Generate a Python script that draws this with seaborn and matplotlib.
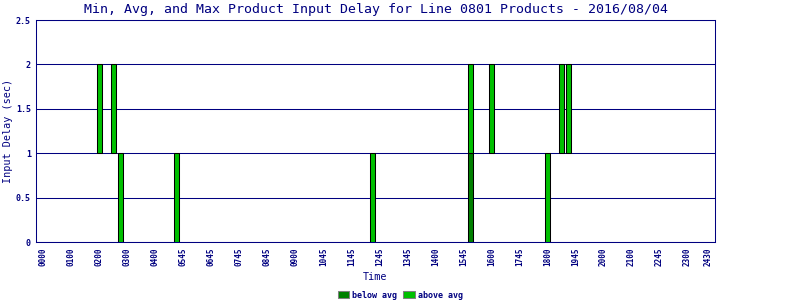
import matplotlib
matplotlib.use("Agg")
import matplotlib.pyplot as plt
from matplotlib.patches import Patch
import seaborn as sns
import pandas as pd

# ---- data ----
slot_index = [8, 10, 11, 19, 47, 61, 64, 72, 74, 75]
min_delay = [1, 1, 0, 0, 0, 0, 1, 0, 1, 1]
avg_delay = [1, 1, 0, 0, 0, 1, 1, 0, 1, 1]
max_delay = [2, 2, 1, 1, 1, 2, 2, 1, 2, 2]

tick_labels = ["0000", "0100", "0200", "0300", "0400", "0545", "0645", "0745",
               "0845", "0900", "1045", "1145", "1245", "1345", "1400", "1545",
               "1600", "1745", "1800", "1945", "2000", "2100", "2245", "2300",
               "2430"]
tick_slots = [0, 4, 8, 12, 16, 20, 24, 28, 32, 36, 40, 44, 48, 52, 56, 60,
              64, 68, 72, 76, 80, 84, 88, 92, 95]

y_ticks = [0, 0.5, 1, 1.5, 2, 2.5]
y_tick_labels = ["0", "0.5", "1", "1.5", "2", "2.5"]

# ---- style ----
sns.set_style("white")
plt.rcParams["font.family"] = ["DejaVu Sans Mono", "DejaVu Sans"]

NAVY = "#000080"
DARK = "#008000"
LIGHT = "#00C000"

df = pd.DataFrame({"slot": slot_index, "min": min_delay,
                   "avg": avg_delay, "max": max_delay}).sort_values("slot")
below = df[df["avg"] > df["min"]].copy()
below["height"] = below["avg"] - below["min"]
below["base"] = below["min"]
above = df[df["max"] > df["avg"]].copy()
above["height"] = above["max"] - above["avg"]
above["base"] = above["avg"]

fig = plt.figure(figsize=(8, 3), dpi=100)
ax = fig.add_axes([36 / 800, 58 / 300, 679 / 800, 222 / 300])

for seg, col in ((below, DARK), (above, LIGHT)):
    sns.barplot(data=seg, x="slot", y="height", native_scale=True, width=0.71,
                color=col, saturation=1, errorbar=None, edgecolor="black",
                linewidth=0.75, bottom=seg["base"].to_numpy(), ax=ax, zorder=3)

ax.set_xlim(-1.05, 95.95)
ax.set_ylim(0, 2.5)
ax.set_xticks(tick_slots)
ax.set_xticklabels(tick_labels, rotation=90, fontweight="bold")
ax.set_yticks(y_ticks)
ax.set_yticklabels(y_tick_labels, fontweight="bold")

ax.set_axisbelow(True)
ax.yaxis.grid(True, color=NAVY, linewidth=0.75)
ax.xaxis.grid(False)
for sp in ax.spines.values():
    sp.set_visible(True)
    sp.set_color(NAVY)
    sp.set_linewidth(0.75)

ax.tick_params(axis="x", length=0, pad=4.3, labelsize=5.5, labelcolor=NAVY)
ax.tick_params(axis="y", length=0, pad=3.6, labelsize=6, labelcolor=NAVY)

ax.set_title("Min, Avg, and Max Product Input Delay for Line 0801 Products - 2016/08/04",
             color=NAVY, fontsize=9.5, pad=5)
ax.set_xlabel("Time", color=NAVY, fontsize=7.3, va="center")
ax.xaxis.set_label_coords(0.5, (242 - 277.5) / 222)
ax.set_ylabel("Input Delay (sec)", color=NAVY, fontsize=7.3, va="center")
ax.yaxis.set_label_coords((8 - 36) / 679, 0.5)

handles = [Patch(facecolor=DARK, edgecolor="gray", linewidth=0.75),
           Patch(facecolor=LIGHT, edgecolor="gray", linewidth=0.75)]
leg = fig.legend(handles, ["below avg", "above avg"], loc="center",
                 bbox_to_anchor=(0.5, 1 - 295 / 300), ncol=2, frameon=False,
                 prop={"size": 6, "weight": "bold"}, handlelength=1.4,
                 handleheight=0.9, handletextpad=0.3, columnspacing=0.8,
                 borderpad=0)
for t in leg.get_texts():
    t.set_color(NAVY)

fig.savefig("out.png", dpi=100)
